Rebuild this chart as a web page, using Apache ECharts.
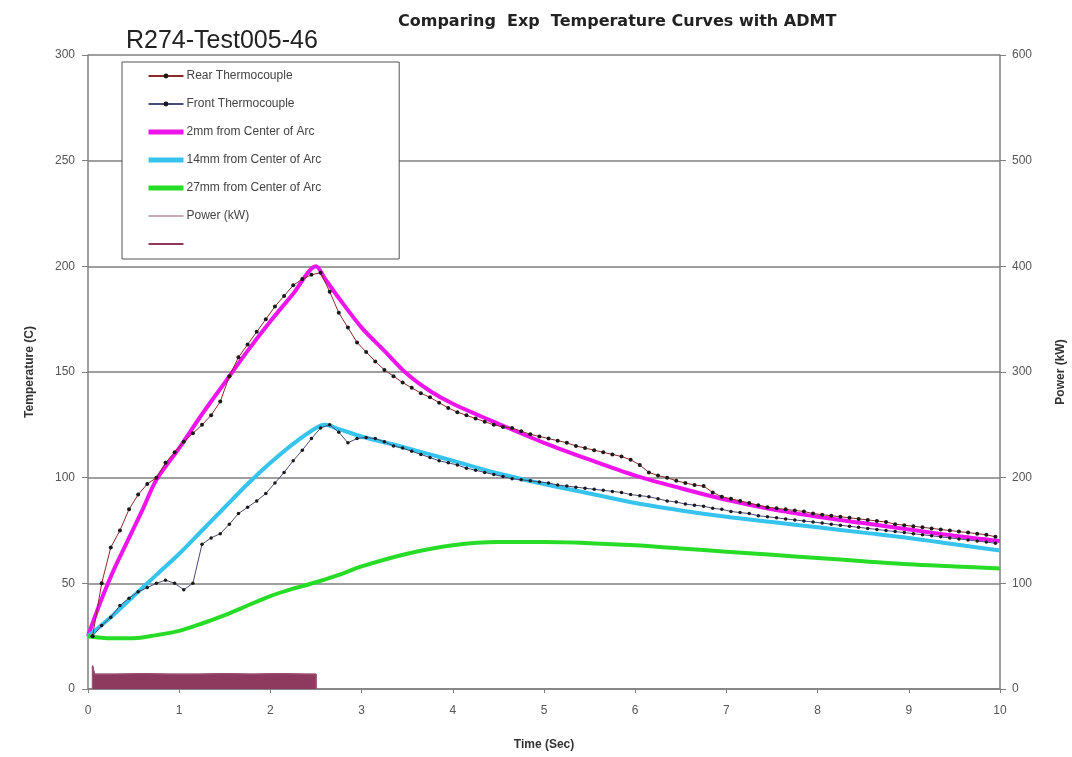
<!DOCTYPE html>
<html>
<head>
<meta charset="utf-8">
<script src="https://cdn.jsdelivr.net/npm/echarts@6/dist/echarts.min.js"></script>
<style>html,body{margin:0;padding:0;background:#fff;}#c{width:1072px;height:757px;}</style>
</head>
<body>
<div id="c"></div>
<script>
// ---- data ----
const thermoTime = [0.05,0.15,0.25,0.35,0.45,0.55,0.65,0.75,0.85,0.95,1.05,1.15,1.25,1.35,1.45,1.55,1.65,1.75,1.85,1.95,2.05,2.15,2.25,2.35,2.45,2.55,2.65,2.75,2.85,2.95,3.05,3.15,3.25,3.35,3.45,3.55,3.65,3.75,3.85,3.95,4.05,4.15,4.25,4.35,4.45,4.55,4.65,4.75,4.85,4.95,5.05,5.15,5.25,5.35,5.45,5.55,5.65,5.75,5.85,5.95,6.05,6.15,6.25,6.35,6.45,6.55,6.65,6.75,6.85,6.95,7.05,7.15,7.25,7.35,7.45,7.55,7.65,7.75,7.85,7.95,8.05,8.15,8.25,8.35,8.45,8.55,8.65,8.75,8.85,8.95,9.05,9.15,9.25,9.35,9.45,9.55,9.65,9.75,9.85,9.95];
const rearTC = [25,50,67,75,85,92,97,100,107,112,117,121,125,129.5,136,148,157,163,169,175,181,186,191,194,196,197,188,178,171,164,159.5,155,151,148,145,142.5,140,138,135.5,133,131,129.5,128,126.5,125,124,123.5,122,120.5,119.5,118.5,117.5,116.5,115,114,113,112,111,110,108.5,106,102.5,101,100,98.5,97.5,96.5,96,93,91,90,89,88,87,86,85.5,85,84.5,84,83,82.5,82,81.5,81,80.5,80,79.5,79,78,77.5,77,76.5,76,75.5,75,74.5,74,73.5,73,72];
const frontTC = [25,30,34,39.5,43,46,48,50,51.5,50,47,50,68.5,71.5,73.5,78,83,86,89,92.5,97.5,102.5,108,113,118.5,123.5,125,121.5,116.5,118.5,119,118.5,117,115,114,112.5,111,109.5,108,107,106,104.5,103.5,102.5,101.5,100.5,99.5,99,98.5,98,97.5,96.5,96,95.5,95,94.5,94,93.5,93,92,91.5,91,90,89,88.5,87.5,87,86.5,85.5,85,84,83.5,83,82,81.5,81,80.5,80,79.5,79,78.5,78,77.5,77,76.5,76,75.5,75,74.5,74,73.5,73,72.5,72,71.5,71,70.5,70,69.5,69];

const mm2Time = [0,0.1,0.2,0.3,0.4,0.5,0.6,0.75,1.0,1.25,1.5,1.75,2.0,2.25,2.5,2.6,2.75,3.0,3.25,3.5,3.75,4.0,4.5,5.0,5.5,6.0,6.5,7.0,7.5,8.0,8.5,9.0,9.5,10];
const mm2 = [25,37,48,58,67,76,85,99,114,130,145,160,174,187,200,194,185,171,160,149,141,135,125.5,116.5,108.5,101,95,89.5,85,81.5,78.5,75.5,72.5,70];

const mm14Time = [0,0.25,0.5,0.75,1.0,1.25,1.5,1.75,2.0,2.25,2.5,2.6,2.75,3.0,3.5,4.0,4.5,5.0,5.5,6.0,6.5,7.0,7.5,8.0,8.5,9.0,9.5,10];
const mm14 = [25,34,44,54,64,75,86,97,107,116,123.5,125,123,119.5,114,108,102,97,92.5,88,84.5,81.5,79,76.5,74,71.5,68.5,65.5];

const mm27Time = [0,0.25,0.5,0.75,1.0,1.25,1.5,1.75,2.0,2.25,2.5,2.75,3.0,3.5,4.0,4.5,5.0,5.5,6.0,6.5,7.0,7.5,8.0,8.5,9.0,9.5,10];
const mm27 = [25,24,24,25.5,27.5,31,35,39.5,44,47.5,50.5,54,58,64,68,69.5,69.5,69,68,66.5,65,63.5,62,60.5,59,58,57];

const powerTime = [0.05,0.05,0.07,0.3,0.6,0.9,1.2,1.5,1.8,2.1,2.4,2.5,2.5];
const powerKW = [0,22,14,14,14.5,14,14,14.5,14,14.5,14,14,0];

const legendNames = ['Rear Thermocouple', 'Front Thermocouple', '2mm from Center of Arc', '14mm from Center of Arc', '27mm from Center of Arc', 'Power (kW)', ' '];

const zip = (a, b) => a.map((v, i) => [v, b[i]]);

const FONT = '"Liberation Sans", Arial, sans-serif';
const BOLDFONT = '"DejaVu Sans", Verdana, sans-serif';
const legendLineWidth = [1, 1, 5, 5, 5, 1.2, 2];
const chart = echarts.init(document.getElementById('c'), null, {renderer: 'canvas'});
chart.setOption({
  animation: false,
  backgroundColor: '#ffffff',
  textStyle: {fontFamily: FONT},
  title: [
    {text: 'Comparing  Exp  Temperature Curves with ADMT', left: 393, top: 9,
     textStyle: {fontSize: 16, fontWeight: 'bold', color: '#222', fontFamily: BOLDFONT}},
    {text: 'R274-Test005-46', left: 121, top: 24,
     textStyle: {fontSize: 25, fontWeight: 'normal', color: '#222', fontFamily: FONT}}
  ],
  legend: {
    orient: 'vertical', left: 122, top: 62,
    padding: [8, 78, 9, 24],
    itemGap: 16, itemWidth: 35, itemHeight: 6,
    borderColor: '#555', borderWidth: 1, backgroundColor: '#fff',
    textStyle: {fontSize: 12, color: '#444', fontFamily: FONT, padding: [0, 0, 0, -2]},
    data: legendNames.map((n, i) => i < 2
      ? {name: n}
      : {name: n, itemStyle: {opacity: 0}, lineStyle: {width: legendLineWidth[i]}})
  },
  grid: {left: 88, right: 72, top: 55, bottom: 68, outerBoundsMode: 'none', containLabel: false},
  xAxis: {
    type: 'value', min: 0, max: 10, interval: 1,
    name: 'Time (Sec)', nameLocation: 'middle', nameGap: 50,
    nameTextStyle: {fontSize: 12, fontWeight: 'bold', color: '#333'},
    axisLine: {lineStyle: {color: '#808080', width: 1.5}},
    axisTick: {show: true, length: 4, lineStyle: {color: '#808080'}},
    axisLabel: {fontSize: 12, color: '#555', margin: 16},
    splitLine: {show: false}
  },
  yAxis: [
    {type: 'value', min: 0, max: 300, interval: 50,
     name: 'Temperature (C)', nameLocation: 'middle', nameGap: 52, nameRotate: 90,
     nameTextStyle: {fontSize: 12, fontWeight: 'bold', color: '#333'},
     axisLine: {show: true, lineStyle: {color: '#808080', width: 1.5}},
     axisTick: {show: true, length: 6, lineStyle: {color: '#808080'}},
     axisLabel: {fontSize: 12, color: '#555', margin: 13},
     splitLine: {show: true, lineStyle: {color: '#7f7f7f', width: 1.5}}},
    {type: 'value', min: 0, max: 600, interval: 100, position: 'right',
     name: 'Power (kW)', nameLocation: 'middle', nameGap: 55, nameRotate: 90,
     nameTextStyle: {fontSize: 12, fontWeight: 'bold', color: '#333'},
     axisLine: {show: true, lineStyle: {color: '#808080', width: 1.5}},
     axisTick: {show: true, length: 6, lineStyle: {color: '#808080'}},
     axisLabel: {fontSize: 12, color: '#555', margin: 12},
     splitLine: {show: false}}
  ],
  series: [
    {name: ' ', type: 'line', yAxisIndex: 1, data: zip(powerTime, powerKW),
     showSymbol: false, symbol: 'none', z: 1,
     lineStyle: {color: '#8E3A5E', width: 1.5}, itemStyle: {color: '#8E3A5E'},
     areaStyle: {color: '#8E3A5E', opacity: 1}},
    {name: 'Power (kW)', type: 'line', yAxisIndex: 1, data: zip(powerTime, powerKW),
     showSymbol: false, symbol: 'none', z: 1,
     lineStyle: {color: '#9A5577', width: 1}, itemStyle: {color: '#9A5577'}},
    {name: '2mm from Center of Arc', type: 'line', data: zip(mm2Time, mm2), smooth: 0.3,
     showSymbol: false, symbol: 'none', z: 2,
     lineStyle: {color: '#F014EC', width: 4}, itemStyle: {color: '#F014EC'}},
    {name: '14mm from Center of Arc', type: 'line', data: zip(mm14Time, mm14), smooth: 0.3,
     showSymbol: false, symbol: 'none', z: 2,
     lineStyle: {color: '#36C3EE', width: 4}, itemStyle: {color: '#36C3EE'}},
    {name: '27mm from Center of Arc', type: 'line', data: zip(mm27Time, mm27), smooth: 0.3,
     showSymbol: false, symbol: 'none', z: 2,
     lineStyle: {color: '#27DC27', width: 4}, itemStyle: {color: '#27DC27'}},
    {name: 'Rear Thermocouple', type: 'line', data: zip(thermoTime, rearTC),
     symbol: 'circle', symbolSize: 4, showSymbol: true, z: 4,
     lineStyle: {color: '#8B2A2A', width: 1}, itemStyle: {color: '#1a1a1a'}},
    {name: 'Front Thermocouple', type: 'line', data: zip(thermoTime, frontTC),
     symbol: 'circle', symbolSize: 3.5, showSymbol: true, z: 4,
     lineStyle: {color: '#4A4A7A', width: 1}, itemStyle: {color: '#1a1a1a'}}
  ]
});
</script>
</body>
</html>
